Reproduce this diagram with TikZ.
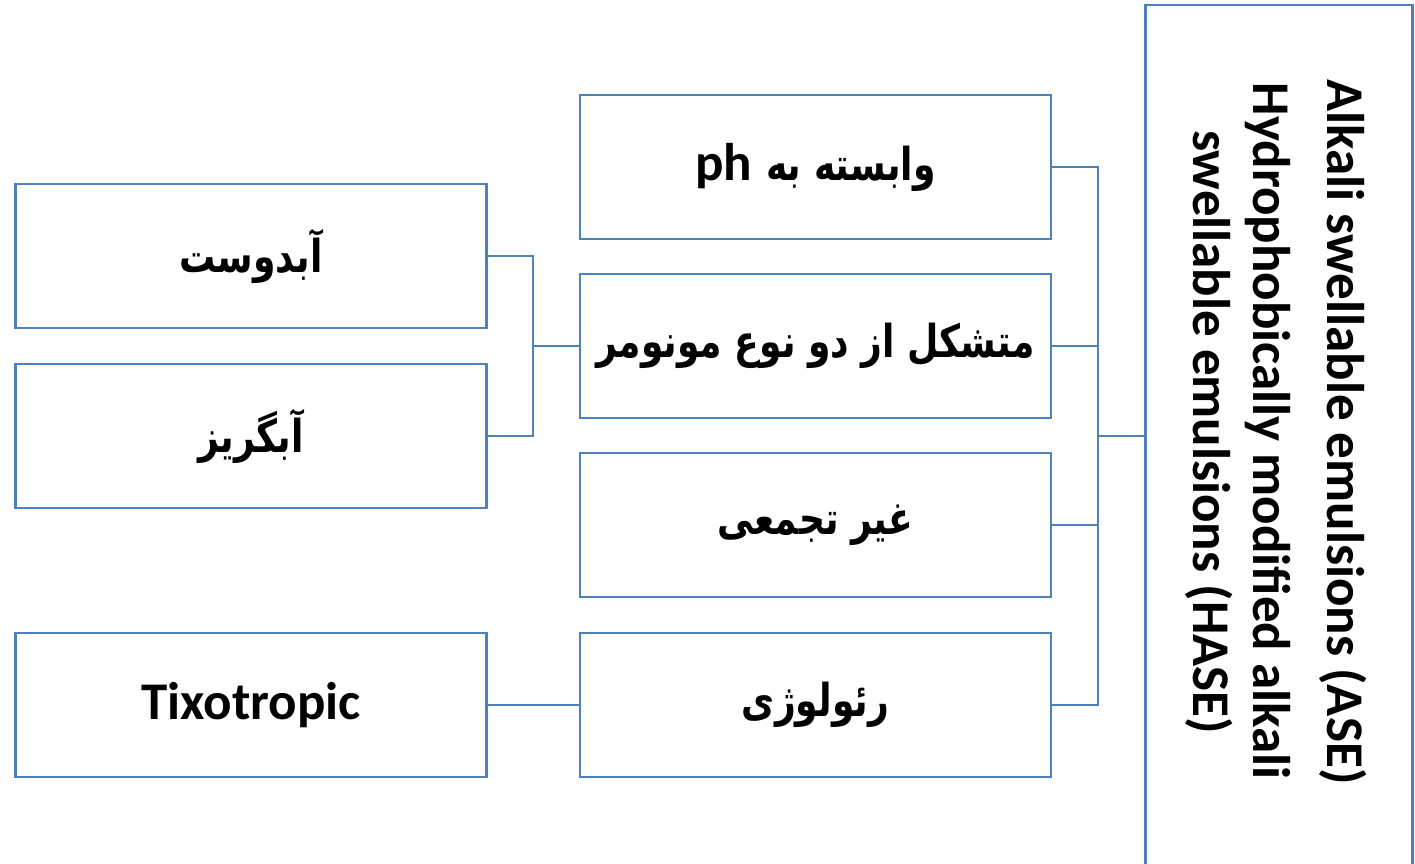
\documentclass[tikz,border=0pt]{standalone}
\usepackage{graphicx}
\usepackage{fontspec}
\setmainfont{Carlito}
\newfontfamily\fa[Script=Arabic]{DejaVu Sans}
\TeXXeTstate=1
\definecolor{boxblue}{RGB}{79,129,189}
\newcommand{\fatxt}[1]{{\fa\bfseries\fontsize{42}{50}\selectfont\scalebox{0.86}[1.08]{\beginR #1\endR}}}
\tikzset{
  box/.style={draw=boxblue, line width=2.8pt, fill=white, minimum width=471pt, minimum height=144pt, inner sep=0pt, outer sep=0pt},
  conn/.style={draw=boxblue, line width=2.8pt},
  entext/.style={font=\bfseries\fontsize{53}{59}\selectfont},
}
\begin{document}
\begin{tikzpicture}[x=1pt,y=-1pt]
\useasboundingbox (0,0) rectangle (1415,863);
\clip (0,0) rectangle (1415,863);
\fill[white] (0,0) rectangle (1415,863);
% big right box
\node[box, minimum width=267pt, minimum height=862pt] (R) at (1279,436) {};
\node[entext, rotate=-90, anchor=base] (t1) at (1327,432) {Alkali swellable emulsions (ASE)};
\node[entext, rotate=-90, anchor=base] (t2) at (1253,431) {Hydrophobically modified alkali};
\node[entext, rotate=-90, anchor=base] (t3) at (1193,432) {swellable emulsions (HASE)};
% middle boxes
\node[box] (m1) at (815.5,167) {{\bfseries\fontsize{53}{59}\selectfont ph}\hspace{14pt}\fatxt{وابسته به}};
\node[box] (m2) at (815.5,346) {\fatxt{متشکل از دو نوع مونومر}};
\node[box] (m3) at (815.5,525) {\fatxt{غیر تجمعی}};
\node[box] (m4) at (815.5,705) {\fatxt{رئولوژی}};
% left boxes
\node[box] (l1) at (251,256) {\fatxt{آبدوست}};
\node[box] (l2) at (251,436) {\fatxt{آبگریز}};
\node[box, entext] (l3) at (251,705) {Tixotropic};
% connectors right
\coordinate (j) at (1098,436);
\draw[conn] (m1.east) -- (m1.east -| j) -- (m4.east -| j) -- (m4.east);
\draw[conn] (m2.east) -- (m2.east -| j);
\draw[conn] (m3.east) -- (m3.east -| j);
\draw[conn] (j) -- (R.west);
% connectors left
\coordinate (k) at (533,346);
\draw[conn] (l1.east) -- (l1.east -| k) -- (l2.east -| k) -- (l2.east);
\draw[conn] (k) -- (m2.west);
\draw[conn] (l3.east) -- (m4.west);
\end{tikzpicture}
\end{document}
